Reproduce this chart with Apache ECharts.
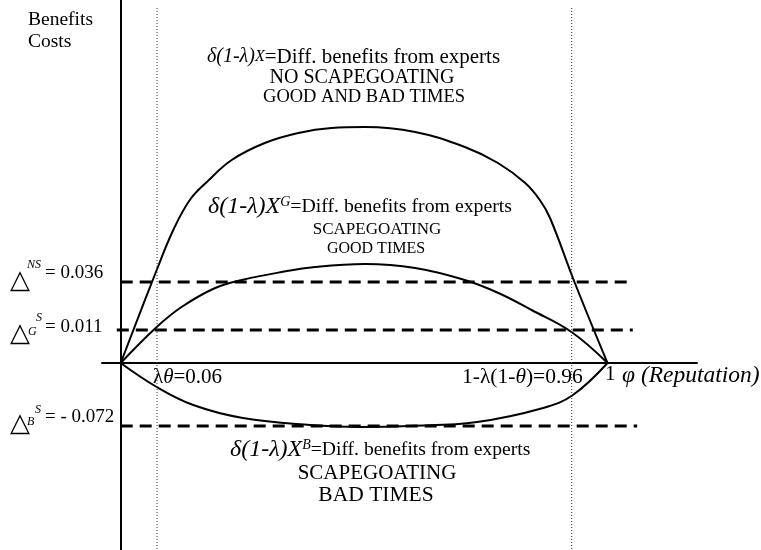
<!DOCTYPE html>
<html>
<head>
<meta charset="utf-8">
<script src="https://cdn.jsdelivr.net/npm/echarts@6/dist/echarts.min.js"></script>
<style>
  html, body { margin: 0; padding: 0; background: #fff; }
  #chart { width: 761px; height: 550px; }
</style>
</head>
<body>
<div id="chart"></div>
<script>
// schematic figure: phi (reputation) on x, drawn height above the phi axis on y

// no scapegoating, good and bad times
var phiNoScape = [0, 0.074, 0.108, 0.142, 0.177, 0.228, 0.296, 0.365, 0.433, 0.502, 0.605, 0.707, 0.775, 0.831, 0.861, 0.882, 0.933, 1];
var valNoScape = [0, 93, 133, 163, 181, 203, 220, 230, 235, 236, 231, 216, 200, 180, 163, 145, 80, 0];

// scapegoating, good times
var phiGood = [0, 0.074, 0.125, 0.194, 0.249, 0.331, 0.399, 0.502, 0.605, 0.707, 0.776, 0.844, 0.926, 1];
var valGood = [0, 36, 56, 75, 83, 91, 96, 99, 95, 83, 70, 53, 31, 0];

// scapegoating, bad times
var phiBad = [0, 0.074, 0.149, 0.251, 0.389, 0.492, 0.594, 0.732, 0.868, 0.929, 1];
var valBad = [0, -24, -42, -55, -62, -64, -63, -59, -45, -32, 0];

// thresholds (dashed lines): label value, drawn height, x span
var levelText = ['= 0.036', '= 0.011', '= - 0.072'];
var levelY = [81, 33, -63];
var levelFrom = [0, -0.008, 0];
var levelTo = [1.040, 1.052, 1.061];

// dotted reference lines
var markPhi = [0.0746, 0.9265];

var serif = '"Liberation Serif", "Times New Roman", serif';

function pairs(xs, ys) {
  return xs.map(function (x, i) { return [x, ys[i]]; });
}

function curve(xs, ys) {
  return {
    type: 'line',
    data: pairs(xs, ys),
    smooth: 0.4,
    symbol: 'none',
    lineStyle: { color: '#000', width: 2 },
    silent: true
  };
}

var series = [curve(phiNoScape, valNoScape), curve(phiGood, valGood), curve(phiBad, valBad)];

levelY.forEach(function (y, i) {
  series.push({
    type: 'line',
    data: [[levelFrom[i], y], [levelTo[i], y]],
    symbol: 'none',
    lineStyle: { color: '#000', width: 3, type: [12, 7] },
    silent: true
  });
});

markPhi.forEach(function (x) {
  series.push({
    type: 'line',
    data: [[x, 355], [x, -187]],
    symbol: 'none',
    lineStyle: { color: '#333', width: 1, type: [1, 2] },
    silent: true
  });
});

function txt(x, y, text, size, opts) {
  opts = opts || {};
  return {
    type: 'text',
    x: x,
    y: y,
    silent: true,
    style: {
      text: text,
      fill: '#000',
      fontFamily: opts.family || serif,
      fontSize: size,
      fontStyle: opts.italic ? 'italic' : 'normal',
      align: opts.align || 'left',
      textAlign: opts.align || 'left',
      verticalAlign: 'middle',
      textVerticalAlign: 'middle',
      rich: opts.rich
    }
  };
}

function richFor(sy, x, sup, n) {
  return {
    sy: { fontFamily: serif, fontStyle: 'italic', fontSize: sy, fill: '#000' },
    x: { fontFamily: serif, fontStyle: 'italic', fontSize: x, fill: '#000' },
    sup: { fontFamily: serif, fontStyle: 'italic', fontSize: sup, fill: '#000', verticalAlign: 'top' },
    n: { fontFamily: serif, fontSize: n, fill: '#000' }
  };
}

var axisRich = function (size) {
  return {
    n: { fontFamily: serif, fontSize: size, fill: '#000' },
    i: { fontFamily: serif, fontSize: size, fontStyle: 'italic', fill: '#000' }
  };
};

var graphics = [
  txt(28, 20, 'Benefits', 19.5),
  txt(28, 42, 'Costs', 19.5),

  // top block
  txt(207, 57, '{sy|δ(1-λ)}{x|X}{n|=Diff. benefits from experts}', 21, { rich: richFor(20, 16, 12, 21) }),
  txt(362, 78, 'NO SCAPEGOATING', 20, { align: 'center' }),
  txt(364, 97, 'GOOD AND BAD TIMES', 18.5, { align: 'center' }),

  // middle block
  txt(208, 207, '{sy|δ(1-λ)}{x|X}{sup|G}{n|=Diff. benefits from experts}', 20, { rich: richFor(24, 24, 14, 19.8) }),
  txt(377, 230, 'SCAPEGOATING', 17, { align: 'center' }),
  txt(376, 249, 'GOOD TIMES', 16, { align: 'center' }),

  // bottom block
  txt(230, 450, '{sy|δ(1-λ)}{x|X}{sup|B}{n|=Diff. benefits from experts}', 19.6, { rich: richFor(24, 24, 14, 19.6) }),
  txt(377, 473, 'SCAPEGOATING', 21, { align: 'center' }),
  txt(376, 495, 'BAD TIMES', 21.5, { align: 'center' }),

  // threshold labels
  txt(10, 281, '△', 26, { family: 'DejaVu Sans' }),
  txt(27, 265, 'NS', 12, { italic: true }),
  txt(45, 273, levelText[0], 19),

  txt(10, 334, '△', 26, { family: 'DejaVu Sans' }),
  txt(28, 332, 'G', 12, { italic: true }),
  txt(36, 318, 'S', 12, { italic: true }),
  txt(45, 327, levelText[1], 19),

  txt(10, 424, '△', 26, { family: 'DejaVu Sans' }),
  txt(27, 422, 'B', 12, { italic: true }),
  txt(35, 410, 'S', 12, { italic: true }),
  txt(45, 417, levelText[2], 19),

  // axis labels
  txt(153, 377, '{n|λ}{i|θ}{n|=0.06}', 21, { rich: axisRich(21) }),
  txt(462, 377, '{n|1-λ(1-}{i|θ}{n|)=0.96}', 21.5, { rich: axisRich(21.5) }),
  txt(605, 374, '1', 21),
  txt(622, 376, 'φ (Reputation)', 23.5, { italic: true })
];

var chart = echarts.init(document.getElementById('chart'));
chart.setOption({
  animation: false,
  backgroundColor: '#fff',
  grid: { left: 102, right: 64, top: 0, bottom: 0, containLabel: false },
  xAxis: {
    type: 'value',
    min: -0.0384,
    max: 1.1839,
    axisLine: { onZero: true, lineStyle: { color: '#000', width: 2 } },
    axisTick: { show: false },
    axisLabel: { show: false },
    splitLine: { show: false }
  },
  yAxis: {
    type: 'value',
    min: -187,
    max: 363,
    axisLine: { show: true, onZero: true, lineStyle: { color: '#000', width: 2 } },
    axisTick: { show: false },
    axisLabel: { show: false },
    splitLine: { show: false }
  },
  series: series,
  graphic: graphics
});
</script>
</body>
</html>
